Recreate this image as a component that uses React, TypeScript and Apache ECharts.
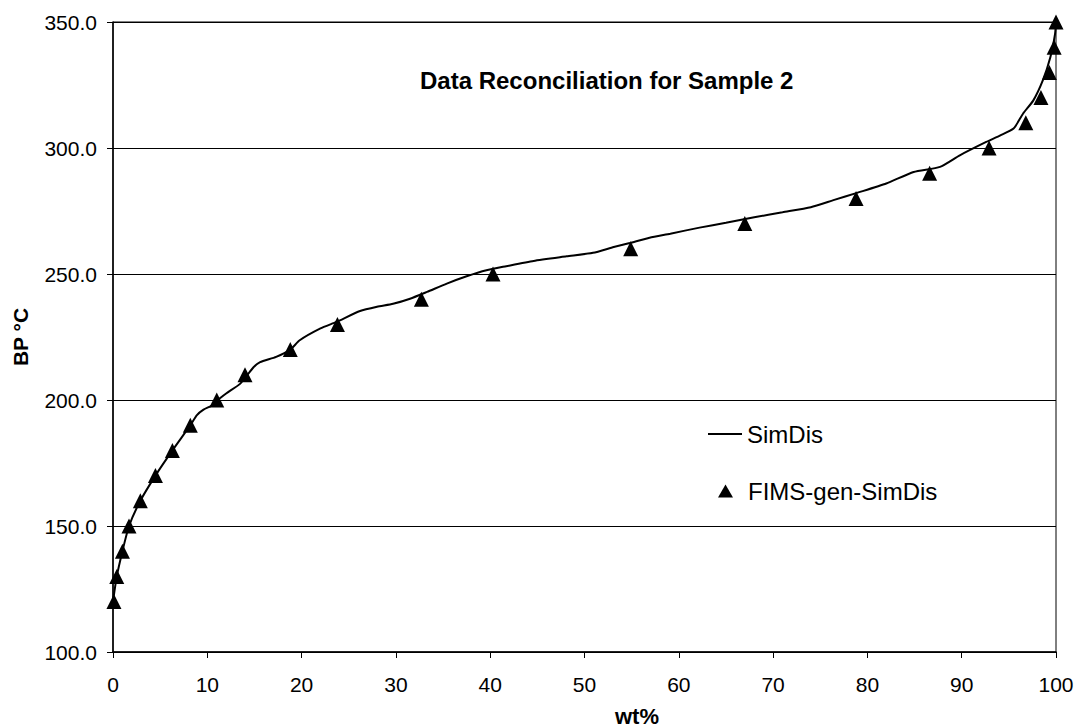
import React, { useEffect, useRef } from "react";
import * as echarts from "echarts";

const TITLE = "Data Reconciliation for Sample 2";
const X_NAME = "wt%";
const Y_NAME = "BP °C";
const SERIES_LINE = "SimDis";
const SERIES_PTS = "FIMS-gen-SimDis";

// SimDis curve (wt%, BP °C)
const simWt = [0, 0.4, 1.0, 1.7, 2.9, 4.5, 6.3, 8.2, 8.9, 9.6, 10.6, 11.0, 12.0, 13.5, 14.9, 15.6, 17.3, 18.8, 19.8, 22.0, 23.7, 26.2, 28.0, 29.7, 31.5, 33.3, 35.4, 37.5, 39.6, 41.7, 44.6, 48.1, 50.9, 53.1, 54.8, 56.9, 59.1, 62.2, 65.0, 68.0, 71.0, 74.0, 76.4, 78.9, 82.0, 84.9, 87.7, 89.8, 92.6, 94.1, 95.5, 96.5, 97.6, 98.6, 99.4, 99.9, 100];
const simBp = [120, 130, 140, 150, 160, 170, 180, 190, 194, 196.2, 198, 199.7, 202.6, 206.5, 213, 215, 217.1, 220, 223.7, 228.4, 231, 235.3, 237, 238.2, 240.2, 242.9, 246.2, 249.1, 251.5, 253.1, 255.2, 257, 258.4, 260.7, 262.3, 264.4, 266, 268.4, 270.3, 272.5, 274.5, 276.5, 279.3, 282.2, 285.9, 290.5, 292.5, 297.1, 302.4, 305, 307.7, 313.6, 318.9, 326.8, 336, 345.3, 350];

// FIMS-gen-SimDis points
const fimsWt = [0.1, 0.4, 1.0, 1.7, 2.9, 4.5, 6.3, 8.2, 11.0, 14.0, 18.8, 23.8, 32.7, 40.3, 54.9, 67.0, 78.8, 86.6, 92.9, 96.8, 98.4, 99.3, 99.8, 100];
const fimsBp = [120, 130, 140, 150, 160, 170, 180, 190, 200, 210, 220, 230, 240, 250, 260, 270, 280, 290, 300, 310, 320, 330, 340, 350];

const FONT = '"Liberation Sans", Arial, sans-serif';

export default function App() {
  const ref = useRef<HTMLDivElement>(null);
  useEffect(() => {
    if (!ref.current) return;
    const chart = echarts.init(ref.current, null, { renderer: "svg" });
    const lineData = simWt.map((w, i) => [w, simBp[i]]);
    const ptsData = fimsWt.map((w, i) => [w, fimsBp[i]]);
    chart.setOption({
      animation: false,
      backgroundColor: "#ffffff",
      textStyle: { fontFamily: FONT, color: "#000" },
      title: {
        text: TITLE,
        left: 420,
        top: 68,
        padding: 0,
        textStyle: { fontFamily: FONT, fontSize: 24, fontWeight: "bold", color: "#000" },
      },
      grid: {
        left: 113,
        right: 23,
        top: 22,
        bottom: 75,
        show: true,
        borderColor: "#000",
        borderWidth: 1,
        backgroundColor: "transparent",
      },
      legend: [
        {
          data: [{ name: SERIES_LINE, icon: "rect" }],
          left: 708,
          top: 422,
          padding: 0,
          itemWidth: 34,
          itemHeight: 2,
          itemStyle: { color: "#000" },
          textStyle: { fontFamily: FONT, fontSize: 24, color: "#000" },
          selectedMode: false,
        },
        {
          data: [{ name: SERIES_PTS, icon: "triangle" }],
          left: 718,
          top: 479,
          padding: 0,
          itemWidth: 15,
          itemHeight: 13,
          itemStyle: { color: "#000" },
          textStyle: { fontFamily: FONT, fontSize: 24, color: "#000", padding: [0, 0, 0, 10] },
          selectedMode: false,
        },
      ],
      xAxis: {
        type: "value",
        min: 0,
        max: 100,
        interval: 10,
        axisLine: { show: true, lineStyle: { color: "#000", width: 1.5 } },
        axisTick: { show: true, inside: false, length: 6, lineStyle: { color: "#000" } },
        axisLabel: { color: "#000", fontFamily: FONT, fontSize: 21, margin: 22 },
        splitLine: { show: false },
      },
      yAxis: {
        type: "value",
        min: 100,
        max: 350,
        interval: 50,
        axisLine: { show: true, lineStyle: { color: "#000", width: 1.5 } },
        axisTick: { show: true, inside: false, length: 6, lineStyle: { color: "#000" } },
        axisLabel: {
          color: "#000",
          fontFamily: FONT,
          fontSize: 21,
          margin: 16,
          formatter: (v: number) => v.toFixed(1),
        },
        splitLine: { show: true, lineStyle: { color: "#000", width: 1 } },
      },
      graphic: [
        {
          type: "text",
          x: 637,
          y: 716,
          style: {
            text: X_NAME,
            align: "center",
            verticalAlign: "middle",
            font: `bold 22px ${FONT}`,
            fill: "#000",
          },
        },
        {
          type: "text",
          x: 20,
          y: 337,
          rotation: Math.PI / 2,
          style: {
            text: Y_NAME,
            align: "center",
            verticalAlign: "middle",
            font: `bold 21px ${FONT}`,
            fill: "#000",
          },
        },
      ],
      series: [
        {
          name: SERIES_LINE,
          type: "line",
          data: lineData,
          symbol: "none",
          smooth: 0.2,
          lineStyle: { color: "#000", width: 2 },
          itemStyle: { color: "#000" },
          z: 2,
        },
        {
          name: SERIES_PTS,
          type: "scatter",
          data: ptsData,
          symbol: "triangle",
          symbolSize: 15,
          itemStyle: { color: "#000", opacity: 1 },
          z: 3,
        },
      ],
    });
    return () => chart.dispose();
  }, []);
  return (
    <div
      ref={ref}
      style={{ position: "absolute", left: 0, top: 0, width: 1079, height: 727 }}
    />
  );
}
